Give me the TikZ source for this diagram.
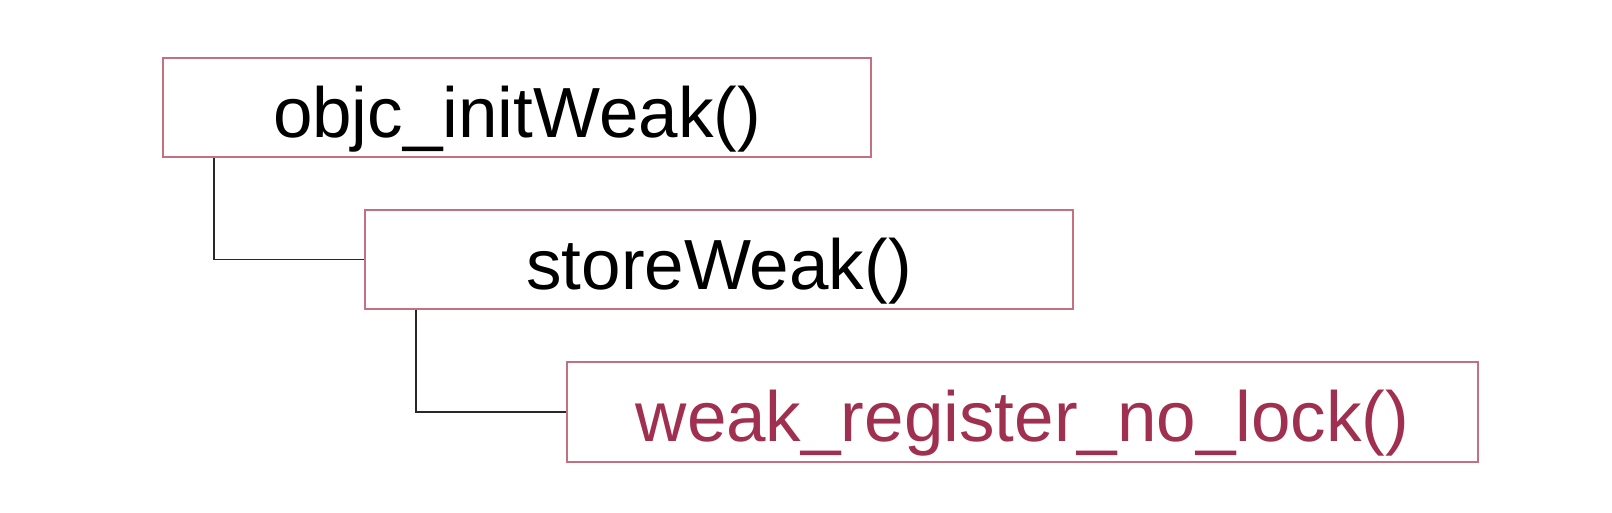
\documentclass[tikz,border=0pt]{standalone}
\usepackage{fontspec}
\setmainfont{Liberation Sans}
\definecolor{boxline}{RGB}{196,112,130}
\definecolor{redtext}{RGB}{160,48,80}
\definecolor{conn}{RGB}{40,40,40}
\begin{document}
\begin{tikzpicture}[x=1pt,y=-1pt,
  fbox/.style={draw=boxline,line width=1.8pt,fill=white,inner sep=0pt,
    text height=60pt,text depth=1pt,
    font=\fontsize{71}{84}\selectfont},
  link/.style={draw=conn,line width=1.5pt}]
\useasboundingbox[fill=white] (0,0) rectangle (1612,512);
\node[fbox,minimum width=708pt,minimum height=99pt] (a) at (517,107.5) {objc\_initWeak()};
\node[fbox,minimum width=708pt,minimum height=99pt] (b) at (719,259.5) {storeWeak()};
\node[fbox,minimum width=911pt,minimum height=100pt,text=redtext] (c) at (1022.5,412) {weak\_register\_no\_lock()};
\coordinate (a1) at (214,0);
\coordinate (b1) at (416,0);
\draw[link] (a.south -| a1) |- (b.west);
\draw[link] (b.south -| b1) |- (c.west);
\end{tikzpicture}
\end{document}
